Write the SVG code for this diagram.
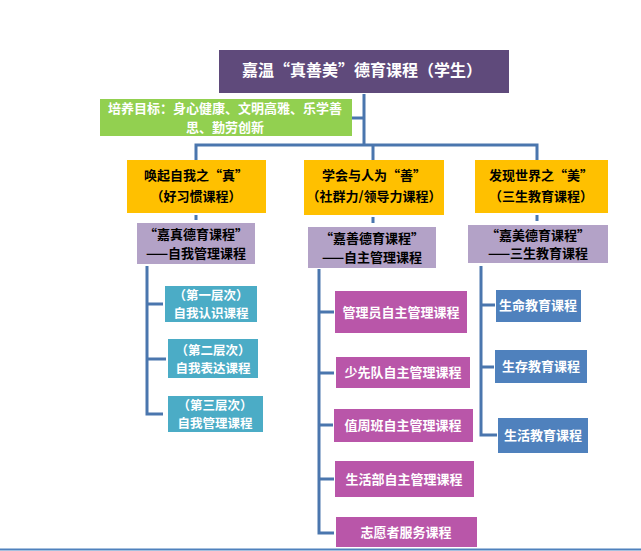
<svg xmlns="http://www.w3.org/2000/svg" width="641" height="551" viewBox="0 0 641 551">
<style>
text{font-family:"Noto Sans CJK SC","Noto Sans",sans-serif;font-weight:bold;text-anchor:middle}
.w{fill:#fff}
.k{fill:#000}
.c{fill:none;stroke:#4A76AE;stroke-width:3}
</style>
<rect width="641" height="551" fill="#fff"/>
<g id="connectors">
<path class="c" d="M364 94V145M352 118H364"/>
<path class="c" d="M196 160V145H537V160M373 145V160"/>
<path class="c" d="M196 215V220M373 217V223M537 215V221"/>
<path class="c" d="M147 266V414H163M147 304H163M147 359H166"/>
<path class="c" d="M319 269V533H334M319 312H334M319 373H334M319 425H333M319 479H334"/>
<path class="c" d="M481 266V435H497M481 305H495M481 367H494"/>
</g>
<g id="title">
<rect x="219" y="50" width="290" height="43" fill="#5F4A7B"/>
<text class="w" x="362" y="76" font-size="16">嘉温“真善美”德育课程（学生）</text>
</g>
<g id="goal">
<rect x="100" y="99" width="252" height="37" fill="#92D050"/>
<text class="w" x="225" y="113" font-size="13">培养目标：身心健康、文明高雅、乐学善</text>
<text class="w" x="225" y="132" font-size="13">思、勤劳创新</text>
</g>
<g id="zhen">
<rect x="127" y="160" width="139" height="53" fill="#FFC000"/>
<text class="k" x="196" y="180" font-size="13">唤起自我之“真”</text>
<text class="k" x="196" y="201" font-size="13">（好习惯课程）</text>
</g>
<g id="shan">
<rect x="304" y="160" width="140" height="55" fill="#FFC000"/>
<text class="k" x="374" y="180" font-size="13">学会与人为“善”</text>
<text class="k" x="374" y="201" font-size="13">（社群力/领导力课程）</text>
</g>
<g id="mei">
<rect x="475" y="160" width="133" height="53" fill="#FFC000"/>
<text class="k" x="541" y="180" font-size="13">发现世界之“美”</text>
<text class="k" x="541" y="201" font-size="13">（三生教育课程）</text>
</g>
<g id="jiazhen">
<rect x="137" y="223" width="118" height="41" fill="#B3A2C7"/>
<text class="k" x="196" y="239" font-size="13">“嘉真德育课程”</text>
<text class="k" x="196" y="258" font-size="13">——自我管理课程</text>
</g>
<g id="jiashan">
<rect x="308" y="227" width="128" height="41" fill="#B3A2C7"/>
<text class="k" x="372" y="243" font-size="13">“嘉善德育课程”</text>
<text class="k" x="372" y="262" font-size="13">——自主管理课程</text>
</g>
<g id="jiamei">
<rect x="468" y="225" width="140" height="38" fill="#B3A2C7"/>
<text class="k" x="538" y="240" font-size="13">“嘉美德育课程”</text>
<text class="k" x="538" y="258" font-size="13">——三生教育课程</text>
</g>
<g id="level1">
<rect x="165" y="286" width="92" height="36" fill="#4BACC6"/>
<text class="w" x="211" y="300" font-size="12.5">（第一层次）</text>
<text class="w" x="211" y="318" font-size="12.5">自我认识课程</text>
</g>
<g id="level2">
<rect x="168" y="339" width="90" height="39" fill="#4BACC6"/>
<text class="w" x="213" y="355" font-size="12.5">（第二层次）</text>
<text class="w" x="213" y="373" font-size="12.5">自我表达课程</text>
</g>
<g id="level3">
<rect x="168" y="396" width="95" height="36" fill="#4BACC6"/>
<text class="w" x="215" y="410" font-size="12.5">（第三层次）</text>
<text class="w" x="215" y="428" font-size="12.5">自我管理课程</text>
</g>
<g id="m1">
<rect x="335" y="291" width="132" height="42" fill="#B956A9"/>
<text class="w" x="401" y="317" font-size="13">管理员自主管理课程</text>
</g>
<g id="m2">
<rect x="336" y="357" width="134" height="31" fill="#B956A9"/>
<text class="w" x="403" y="377" font-size="13">少先队自主管理课程</text>
</g>
<g id="m3">
<rect x="334" y="409" width="139" height="33" fill="#B956A9"/>
<text class="w" x="403" y="430" font-size="13">值周班自主管理课程</text>
</g>
<g id="m4">
<rect x="335" y="461" width="139" height="36" fill="#B956A9"/>
<text class="w" x="404" y="484" font-size="13">生活部自主管理课程</text>
</g>
<g id="m5">
<rect x="336" y="517" width="141" height="30" fill="#B956A9"/>
<text class="w" x="406" y="537" font-size="13">志愿者服务课程</text>
</g>
<g id="b1">
<rect x="496" y="290" width="85" height="32" fill="#4F81BD"/>
<text class="w" x="538" y="310" font-size="13">生命教育课程</text>
</g>
<g id="b2">
<rect x="495" y="350" width="92" height="33" fill="#4F81BD"/>
<text class="w" x="541" y="371" font-size="13">生存教育课程</text>
</g>
<g id="b3">
<rect x="498" y="418" width="90" height="35" fill="#4F81BD"/>
<text class="w" x="543" y="440" font-size="13">生活教育课程</text>
</g>
<line x1="0" y1="549.5" x2="641" y2="549.5" stroke="#4F81BD" stroke-width="2"/>
</svg>
